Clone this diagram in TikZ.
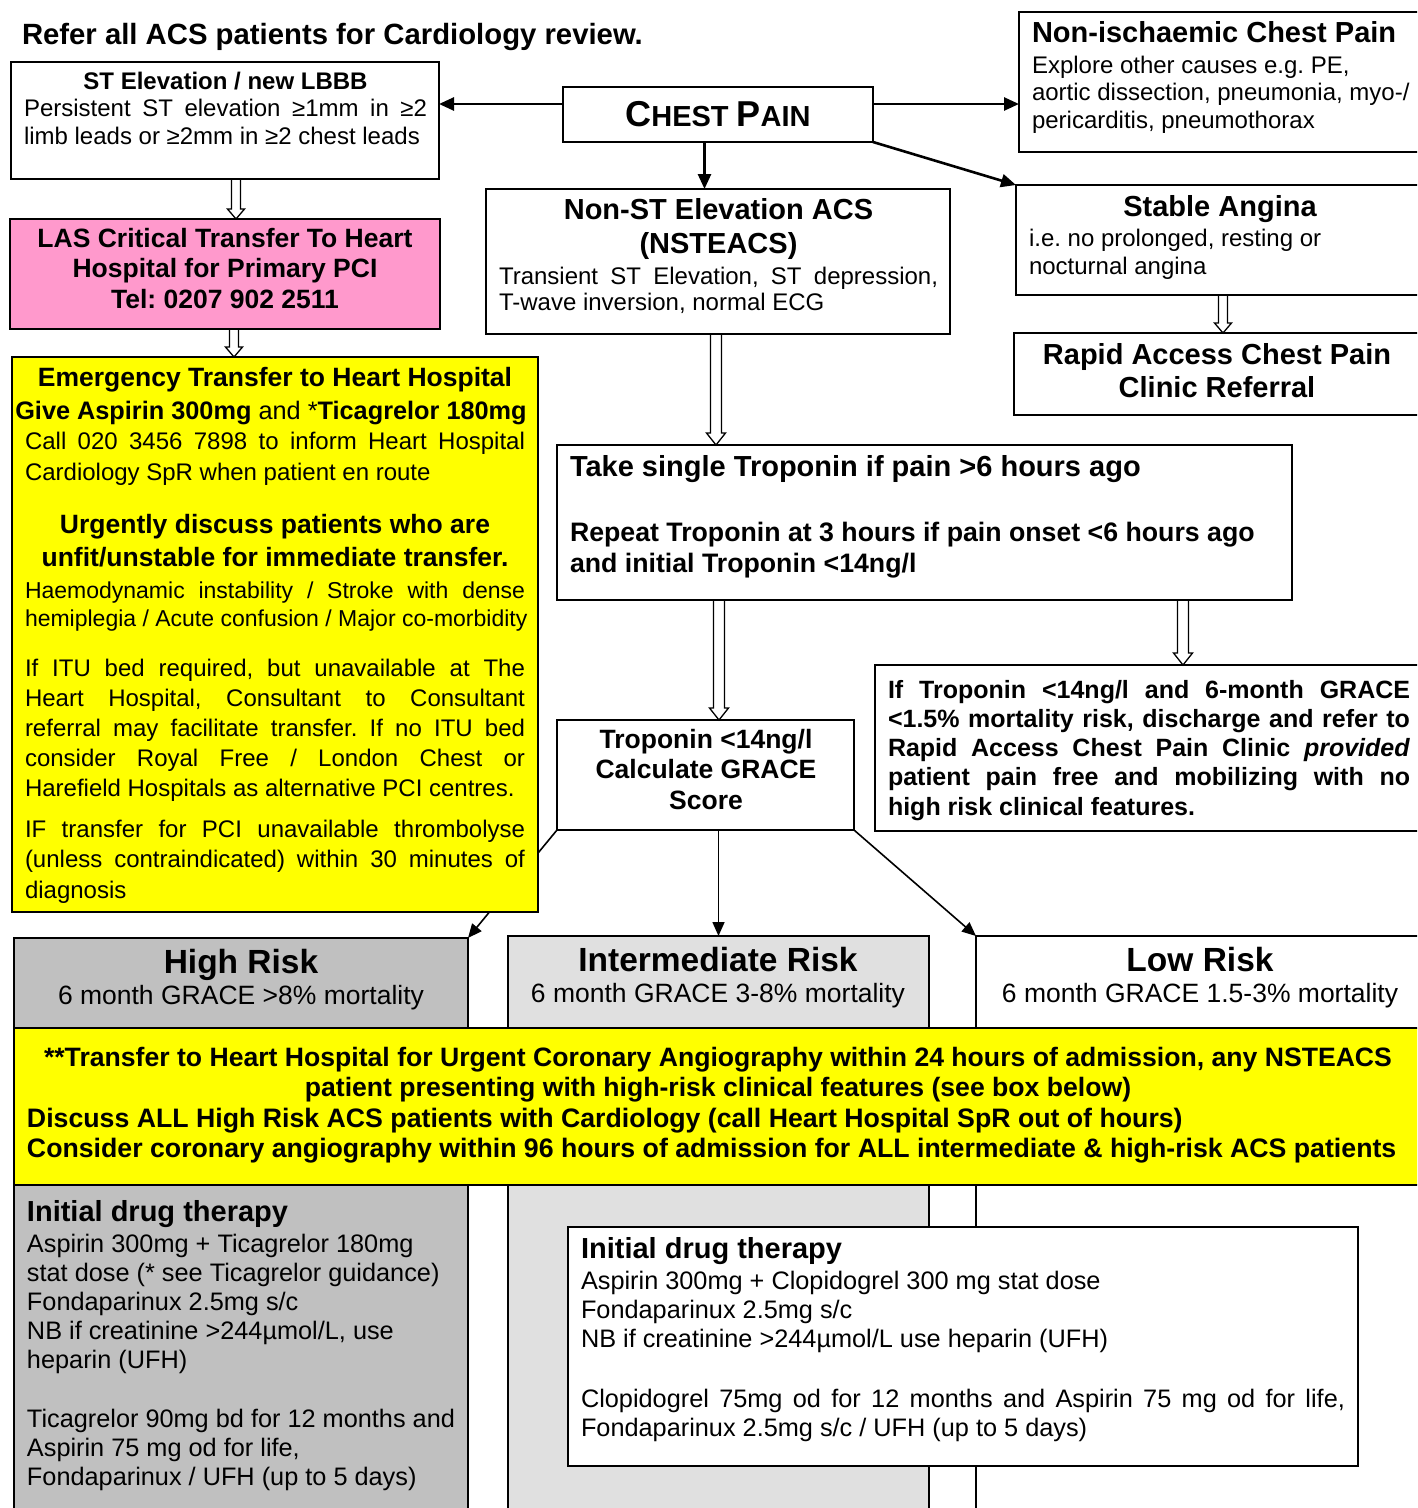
\documentclass[tikz,border=0pt]{standalone}
\usepackage{fontspec}
\setmainfont{Liberation Sans}
\usetikzlibrary{arrows.meta,calc}
\pgfdeclarelayer{bg}
\pgfsetlayers{bg,main}
\definecolor{ylw}{HTML}{FFFF00}
\definecolor{pnk}{HTML}{FF99CC}
\definecolor{gryA}{HTML}{C0C0C0}
\definecolor{gryB}{HTML}{E0E0E0}
\newcommand\fsz[2]{\fontsize{#1}{#2}\selectfont}
\newcommand\J[2]{\makebox[#1][s]{#2}}
\newcommand\C[2]{\makebox[#1]{#2}}
\newcommand\normsp{\frenchspacing\spaceskip=0pt\xspaceskip=0pt\relax}
\tikzset{
 box/.style={draw=black, line width=1.8pt, inner sep=0pt, outer sep=0pt, anchor=north west},
 lbl/.style={inner sep=0pt, outer sep=0pt, anchor=base west, align=left, execute at begin node=\normsp},
 clbl/.style={inner sep=0pt, outer sep=0pt, anchor=base, align=left, execute at begin node=\normsp},
 one/.style={inner sep=0pt, outer sep=0pt, anchor=base, execute at begin node=\normsp},
 bigarr/.style={line width=2.6pt, -{Triangle[length=15pt,width=13pt]}},
 thinarr/.style={line width=1.6pt, -{Triangle[length=14pt,width=12pt]}},
 hollow/.style={draw=black, line width=1.3pt, fill=white, to path={let \p1=(\tikztostart), \p2=(\tikztotarget) in (\x1-4.5pt,\y1) -- (\x1-4.5pt,\y2+10pt) -- (\x1-8.5pt,\y2+10pt) -- (\x1,\y2) -- (\x1+8.5pt,\y2+10pt) -- (\x1+4.5pt,\y2+10pt) -- (\x1+4.5pt,\y1)}},
 hollowL/.style={draw=black, line width=1.3pt, fill=white, to path={let \p1=(\tikztostart), \p2=(\tikztotarget) in (\x1-5.5pt,\y1) -- (\x1-5.5pt,\y2+12pt) -- (\x1-9.5pt,\y2+12pt) -- (\x1,\y2) -- (\x1+9.5pt,\y2+12pt) -- (\x1+5.5pt,\y2+12pt) -- (\x1+5.5pt,\y1)}},
}
\begin{document}
\frenchspacing
\begin{tikzpicture}[x=1pt,y=-1pt]
\useasboundingbox (0,0) rectangle (1417,1508);
\clip (0,0) rectangle (1417,1508);

% title
\node[one, anchor=base west, font=\fsz{29.3}{33}\bfseries] (title) at (22,44) {Refer all ACS patients for Cardiology review.};

% boxes
\node[box, minimum width=428pt, minimum height=117pt] (ste) at (11,62) {};
\node[box, minimum width=310pt, minimum height=55pt, font=\bfseries] (chest) at (563,87)
  {{\fsz{36}{40}C}{\fsz{29}{33}HEST }{\fsz{36}{40}P}{\fsz{29}{33}AIN}};
\node[box, minimum width=405pt, minimum height=140pt] (nonisch) at (1019,12) {};
\node[box, minimum width=408pt, minimum height=110pt] (stable) at (1016,185) {};
\node[box, minimum width=410pt, minimum height=82pt] (rapid) at (1014,333) {};
\node[box, minimum width=464pt, minimum height=145pt] (nste) at (486,189) {};
\node[box, fill=pnk, minimum width=430pt, minimum height=110pt] (las) at (10,219) {};
\node[box, minimum width=735pt, minimum height=155pt] (tro) at (557,445) {};
\node[box, minimum width=297pt, minimum height=110pt] (tn) at (557,720) {};
\node[box, minimum width=549pt, minimum height=166pt] (iftn) at (875,665) {};
\node[box, fill=gryA, minimum width=454pt, minimum height=600pt] (high) at (14,938) {};
\node[box, fill=gryB, minimum width=421pt, minimum height=600pt] (intr) at (508,936) {};
\node[box, fill=white, minimum width=450pt, minimum height=600pt] (low) at (976,936) {};
\node[box, fill=ylw, minimum width=526pt, minimum height=555pt] (emerg) at (12,357) {};
\node[box, fill=ylw, minimum width=1412pt, minimum height=157pt] (band) at (14,1028) {};
\node[box, fill=white, minimum width=790pt, minimum height=239pt] (idrug) at (568,1227) {};

% texts
\node[lbl, text width=430pt, font=\fsz{24}{27.5}] (steT) at (24,89)
 {\C{403pt}{\bfseries ST Elevation / new LBBB}\\
  \J{403pt}{Persistent ST elevation ≥1mm in ≥2}\\
  limb leads or ≥2mm in ≥2 chest leads};

\node[lbl, text width=395pt, font=\fsz{24}{27.5}] (nonischT) at (1032,42)
 {{\fsz{29}{33}\bfseries Non-ischaemic Chest Pain}\\[3.5pt]
  Explore other causes e.g. PE,\\
  aortic dissection, pneumonia, myo-/\\
  pericarditis, pneumothorax};

\node[lbl, text width=390pt, font=\fsz{24}{28}] (stableT) at (1029,216)
 {\C{382pt}{\fsz{29}{33}\bfseries Stable Angina}\\[2pt]
  i.e. no prolonged, resting or\\
  nocturnal angina};

\node[clbl, text width=400pt, font=\fsz{29}{33}\bfseries] (rapidT) at (1217,364)
 {\C{400pt}{Rapid Access Chest Pain}\\ \C{400pt}{Clinic Referral}};

\node[lbl, text width=460pt, font=\fsz{24}{26}] (nsteT) at (499,219)
 {\C{439pt}{\fsz{29}{34}\bfseries Non-ST Elevation ACS}\\[8pt]
  \C{439pt}{\fsz{29}{34}\bfseries (NSTEACS)}\\[5pt]
  \J{439pt}{Transient ST Elevation, ST depression,}\\
  T-wave inversion, normal ECG};

\node[clbl, text width=425pt, font=\fsz{26.5}{30.5}\bfseries] (lasT) at (225,247)
 {\C{425pt}{LAS Critical Transfer To Heart}\\ \C{425pt}{Hospital for Primary PCI}\\ \C{425pt}{Tel: 0207 902 2511}};

\node[one, font=\fsz{26.5}{30}\bfseries] (e1) at (275,386) {Emergency Transfer to Heart Hospital};
\node[one, font=\fsz{25.3}{30}] (e2) at (271,419) {\textbf{Give Aspirin 300mg} and *\textbf{Ticagrelor 180mg}};
\node[lbl, text width=520pt, font=\fsz{24}{31}] (e3) at (25,449)
 {\J{500pt}{Call 020 3456 7898 to inform Heart Hospital}\\
  Cardiology SpR when patient en route};
\node[clbl, text width=520pt, font=\fsz{26.5}{33}\bfseries] (e4) at (275,533)
 {\C{520pt}{Urgently discuss patients who are}\\ \C{520pt}{unfit/unstable for immediate transfer.}};
\node[lbl, text width=520pt, font=\fsz{23}{28}] (e5) at (25,598)
 {\J{500pt}{Haemodynamic instability / Stroke with dense}\\
  hemiplegia / Acute confusion / Major co-morbidity};
\node[lbl, text width=520pt, font=\fsz{24}{30}] (e6) at (25,676)
 {\J{500pt}{If ITU bed required, but unavailable at The}\\
  \J{500pt}{Heart Hospital, Consultant to Consultant}\\
  \J{500pt}{referral may facilitate transfer. If no ITU bed}\\
  \J{500pt}{consider Royal Free / London Chest or}\\
  Harefield Hospitals as alternative PCI centres.};
\node[lbl, text width=520pt, font=\fsz{24}{30.5}] (e7) at (25,837)
 {\J{500pt}{IF transfer for PCI unavailable thrombolyse}\\
  \J{500pt}{(unless contraindicated) within 30 minutes of}\\
  diagnosis};

\node[lbl, text width=760pt, font=\fsz{29}{31}\bfseries] (troT) at (570,476)
 {Take single Troponin if pain >6 hours ago\\[34pt]
  {\fsz{26.7}{31}Repeat Troponin at 3 hours if pain onset <6 hours ago}\\
  {\fsz{26.7}{31}and initial Troponin <14ng/l}};

\node[clbl, text width=295pt, font=\fsz{26.5}{30.5}\bfseries] (tnT) at (706,748)
 {\C{295pt}{Troponin <14ng/l}\\ \C{295pt}{Calculate GRACE}\\ \C{295pt}{Score}};

\node[lbl, text width=540pt, font=\fsz{25}{29.3}\bfseries] (iftnT) at (888,698)
 {\J{522pt}{If Troponin <14ng/l and 6-month GRACE}\\
  \J{522pt}{<1.5\% mortality risk, discharge and refer to}\\
  \J{522pt}{Rapid Access Chest Pain Clinic \textit{provided}}\\
  \J{522pt}{patient pain free and mobilizing with no}\\
  high risk clinical features.};

\node[one, font=\fsz{33.5}{38}\bfseries] (highT) at (241,973) {High Risk};
\node[one, font=\fsz{26.5}{30}] (highS) at (241,1004.5) {6 month GRACE >8\% mortality};
\node[one, font=\fsz{33.5}{38}\bfseries] (intrT) at (718,971) {Intermediate Risk};
\node[one, font=\fsz{26.5}{30}] (intrS) at (718,1002) {6 month GRACE 3-8\% mortality};
\node[one, font=\fsz{33.5}{38}\bfseries] (lowT) at (1200,971) {Low Risk};
\node[one, font=\fsz{26.5}{30}] (lowS) at (1200,1002) {6 month GRACE 1.5-3\% mortality};

\node[clbl, text width=1400pt, font=\fsz{26.6}{30.5}\bfseries] (b1) at (718,1066)
 {\C{1400pt}{**Transfer to Heart Hospital for Urgent Coronary Angiography within 24 hours of admission, any NSTEACS}\\
  \C{1400pt}{patient presenting with high-risk clinical features (see box below)}};
\node[lbl, text width=1600pt, font=\fsz{26.7}{30.5}\bfseries] (b2) at (27,1127)
 {Discuss ALL High Risk ACS patients with Cardiology (call Heart Hospital SpR out of hours)\\
  Consider coronary angiography within 96 hours of admission for ALL intermediate \& high-risk ACS patients};

\node[lbl, text width=440pt, font=\fsz{25.3}{29}] (hdrugT) at (27,1221)
 {{\fsz{29}{33}\bfseries Initial drug therapy}\\[2pt]
  Aspirin 300mg + Ticagrelor 180mg\\
  stat dose (* see Ticagrelor guidance)\\
  Fondaparinux 2.5mg s/c\\
  NB if creatinine >244µmol/L, use\\
  heparin (UFH)\\[30pt]
  Ticagrelor 90mg bd for 12 months and\\
  Aspirin 75 mg od for life,\\
  Fondaparinux / UFH (up to 5 days)};

\node[lbl, text width=780pt, font=\fsz{25.3}{29}] (idrugT) at (581,1258)
 {{\fsz{29}{33}\bfseries Initial drug therapy}\\[2pt]
  Aspirin 300mg + Clopidogrel 300 mg stat dose\\
  Fondaparinux 2.5mg s/c\\
  NB if creatinine >244µmol/L use heparin (UFH)\\[31pt]
  \J{764pt}{Clopidogrel 75mg od for 12 months and Aspirin 75 mg od for life,}\\
  Fondaparinux 2.5mg s/c / UFH (up to 5 days)};

% connectors
\begin{pgfonlayer}{bg}
\fill[white] (0,0) rectangle (1417,1508);
\draw[bigarr] ([yshift=10.5pt]chest.west) -- ([yshift=10.5pt]chest.west -| ste.east);
\draw[bigarr] ([yshift=10.5pt]chest.east) -- ([yshift=10.5pt]chest.east -| nonisch.west);
\draw[bigarr] ([xshift=-13.5pt]chest.south) -- ([xshift=-13.5pt]chest.south |- nste.north);
\draw[bigarr] (chest.south east) -- (stable.north west);
\draw[hollow] ([xshift=11pt]ste.south) to (las.north);
\draw[hollow] ([xshift=9pt]las.south) to (emerg.north);
\draw[hollow] ([xshift=3pt]stable.south) to (rapid.north);
\draw[hollowL] ([xshift=-2pt]nste.south) to (tro.north);
\draw[hollowL] ([xshift=-205.5pt]tro.south) to (tn.north);
\draw[hollowL] ([xshift=258.5pt]tro.south) to (iftn.north);
\draw[thinarr] (tn.south west) -- (high.north east);
\draw[thinarr] (tn.south -| intr.north) -- (intr.north);
\draw[thinarr] (tn.south east) -- (low.north west);
\end{pgfonlayer}
\end{tikzpicture}
\end{document}
